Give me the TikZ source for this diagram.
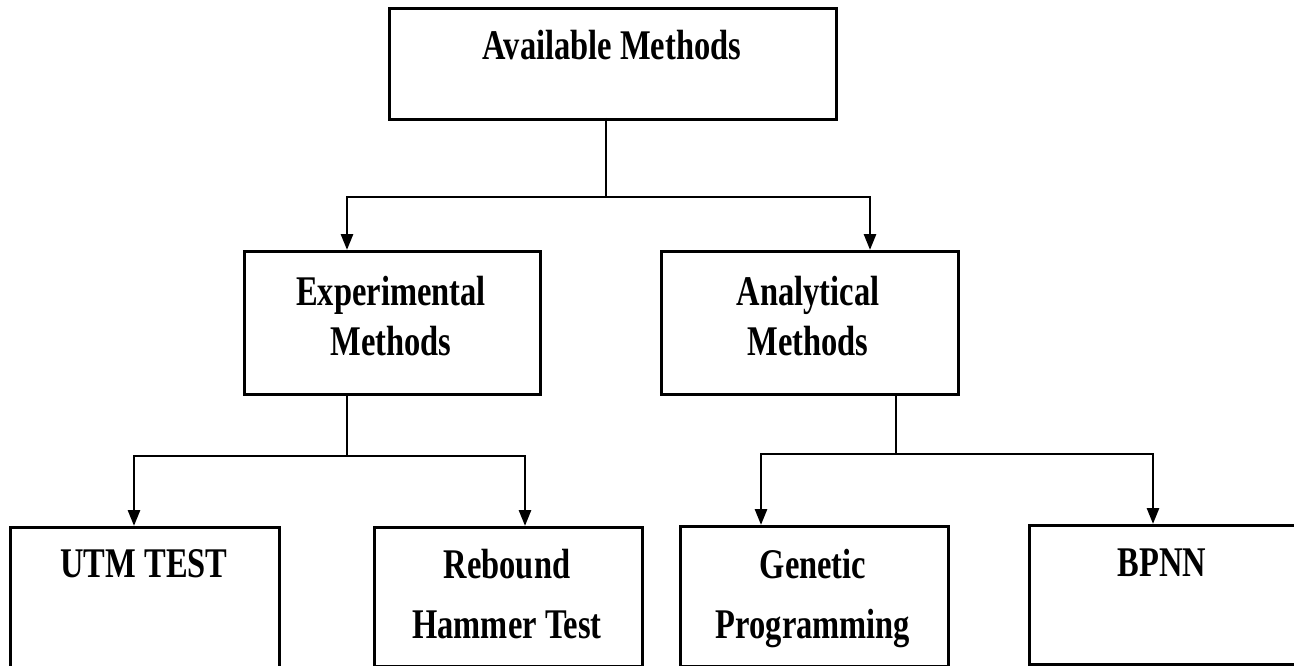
\documentclass[tikz,border=0pt]{standalone}
\usepackage{fontspec}
\setmainfont{Liberation Serif}
\usetikzlibrary{arrows.meta,positioning}

% tall, narrow bold lettering used for every label
\newcommand{\tallbf}[1]{\scalebox{1}[1.3]{\bfseries\fontsize{32.5}{40}\selectfont #1}}

\begin{document}
\begin{tikzpicture}[x=1pt,y=-1pt,
  box/.style={draw=black, line width=3pt, rectangle, inner sep=0pt, anchor=north west},
  lbl/.style={inner sep=0pt, anchor=base},
  conn/.style={line width=2.8pt, draw=black},
  arr/.style={conn, -{Triangle[length=16pt,width=12pt]}}
]
\useasboundingbox (0,0) rectangle (1294,666);
\clip (0,0) rectangle (1294,666);

% boxes
\node[box, minimum width=447pt, minimum height=111pt] (avail) at (388,7) {};
\node[box, minimum width=296pt, minimum height=143pt] (exp) at (243,250) {};
\node[box, minimum width=297pt, minimum height=143pt] (ana) at (660,250) {};
\node[box, minimum width=269pt, minimum height=142pt] (utm) at (9,526) {};
\node[box, minimum width=268pt, minimum height=139pt] (reb) at (373,526) {};
\node[box, minimum width=268pt, minimum height=140pt] (gen) at (679,525) {};
\node[box, minimum width=300pt, minimum height=139pt] (bpnn) at (1028,524) {};

% labels
\node[lbl] (tavail) at (612,60) {\tallbf{Available Methods}};
\node[lbl] (texp1) at (391,305) {\tallbf{Experimental}};
\node[lbl] (texp2) at (391,355) {\tallbf{Methods}};
\node[lbl] (tana1) at (808,305) {\tallbf{Analytical}};
\node[lbl] (tana2) at (808,355) {\tallbf{Methods}};
\node[lbl] (tutm) at (144,577) {\tallbf{UTM TEST}};
\node[lbl] (treb1) at (507,578) {\tallbf{Rebound}};
\node[lbl] (treb2) at (507,638) {\tallbf{Hammer Test}};
\node[lbl] (tgen1) at (813,578) {\tallbf{Genetic}};
\node[lbl] (tgen2) at (813,638) {\tallbf{Programming}};
\node[lbl] (tbpnn) at (1162,576) {\tallbf{BPNN}};

% connection points
\coordinate (availOut) at (606,118);
\coordinate (barA) at (606,197);
\coordinate (expIn) at (347,250);
\coordinate (anaIn) at (870,250);
\coordinate (expOut) at (347,393);
\coordinate (barE) at (347,456);
\coordinate (utmIn) at (134,526);
\coordinate (rebIn) at (525,526);
\coordinate (anaOut) at (896,393);
\coordinate (barN) at (896,454);
\coordinate (genIn) at (761,525);
\coordinate (bpnnIn) at (1153,524);

% connectors
\draw[conn] (availOut) -- (barA);
\draw[arr] (barA) -| (expIn);
\draw[arr] (barA) -| (anaIn);
\draw[conn] (expOut) -- (barE);
\draw[arr] (barE) -| (utmIn);
\draw[arr] (barE) -| (rebIn);
\draw[conn] (anaOut) -- (barN);
\draw[arr] (barN) -| (genIn);
\draw[arr] (barN) -| (bpnnIn);
\end{tikzpicture}
\end{document}
